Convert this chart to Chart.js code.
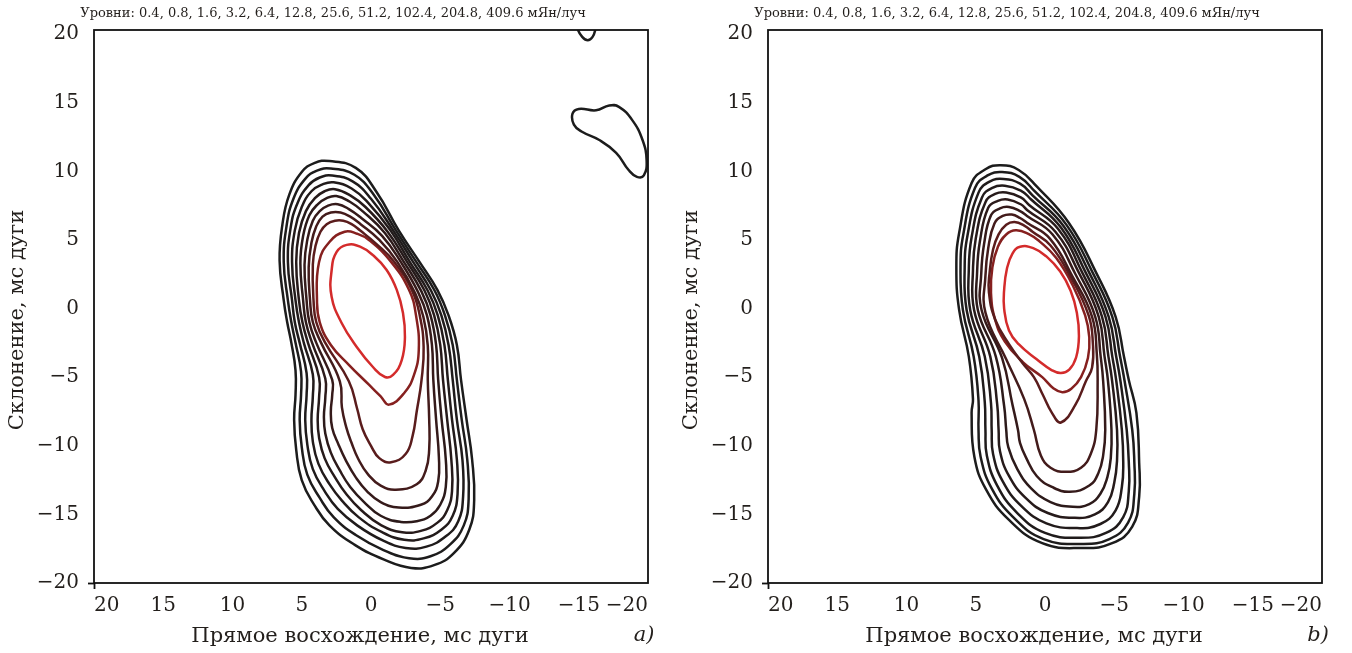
<!DOCTYPE html>
<html><head><meta charset="utf-8">
<script src="https://cdn.jsdelivr.net/npm/chart.js@4.4.1/dist/chart.umd.min.js"></script>
<style>
html,body{margin:0;padding:0;background:#fff;width:1352px;height:653px;overflow:hidden}
.p{position:absolute;top:0;width:676px;height:653px}
canvas{display:block}
</style></head><body>
<div class="p" style="left:0"><canvas id="ca" width="676" height="653"></canvas></div>
<div class="p" style="left:674px"><canvas id="cb" width="676" height="653"></canvas></div>
<script>
// ---- data (RA, Dec in mas) ----
const levels = [0.4, 0.8, 1.6, 3.2, 6.4, 12.8, 25.6, 51.2, 102.4, 204.8, 409.6];
const tickValues = [-20, -15, -10, -5, 0, 5, 10, 15, 20];
const levelColors = ['#1c1c1c','#1d1c1c','#1f1b1b','#221b1b','#261a1a','#2c1a1a','#351a1a','#431b1b','#5a1c1c','#86201f','#d42b2b'];
const panelLabels = ['a)', 'b)'];
const titleX = 'Прямое восхождение, мс дуги';
const titleY = 'Склонение, мс дуги';

// panel a contours (outer -> inner)
const a1 = [[3.0,10.75],[1.1,10.25],[-0.4,8.5],[-2.0,5.7],[-3.5,3.4],[-4.8,1.35],[-5.6,-0.5],[-6.2,-2.65],[-6.5,-5.2],[-6.9,-8.1],[-7.3,-11.0],[-7.45,-13.95],[-7.1,-16.1],[-6.0,-17.8],[-4.55,-18.7],[-2.9,-18.9],[-0.95,-18.3],[1.2,-17.2],[3.0,-15.8],[4.1,-14.3],[5.0,-12.5],[5.4,-10.3],[5.55,-8.1],[5.45,-6.3],[5.45,-4.5],[5.75,-2.5],[6.05,-1.0],[6.3,0.6],[6.6,3.5],[6.4,6.1],[5.9,8.3],[5.0,9.95],[4.1,10.6]];
const a2 = [[2.9,10.2],[1.2,9.75],[-0.2,8.3],[-1.8,5.7],[-3.27,3.4],[-4.57,1.35],[-5.34,-0.5],[-5.9,-2.65],[-6.2,-5.2],[-6.55,-8.1],[-6.95,-11.0],[-7.05,-13.9],[-6.7,-15.8],[-5.7,-17.2],[-4.3,-18.05],[-2.75,-18.2],[-0.9,-17.6],[1.1,-16.5],[2.7,-15.2],[3.7,-13.8],[4.6,-12.1],[5.0,-10.1],[5.15,-8.1],[5.05,-6.3],[5.05,-4.6],[5.45,-2.5],[5.75,-1.0],[6.0,0.6],[6.3,3.4],[6.1,6.0],[5.6,8.0],[4.75,9.45],[3.9,10.05]];
const a3 = [[2.8,9.7],[1.3,9.25],[0.0,8.0],[-1.6,5.7],[-3.04,3.4],[-4.34,1.3],[-5.08,-0.5],[-5.6,-2.65],[-5.9,-5.2],[-6.2,-8.1],[-6.6,-11.0],[-6.65,-13.7],[-6.3,-15.5],[-5.4,-16.6],[-4.0,-17.35],[-2.5,-17.45],[-0.85,-16.9],[1.0,-15.8],[2.4,-14.6],[3.35,-13.3],[4.2,-11.7],[4.6,-9.9],[4.75,-8.1],[4.65,-6.3],[4.65,-4.7],[5.15,-2.5],[5.5,-1.0],[5.7,0.6],[6.0,3.4],[5.8,5.9],[5.3,7.7],[4.5,9.0],[3.7,9.55]];
const a4 = [[2.7,9.2],[1.4,8.75],[0.2,7.7],[-1.4,5.7],[-2.8,3.4],[-4.1,1.3],[-4.82,-0.5],[-5.3,-2.65],[-5.55,-5.2],[-5.85,-8.1],[-6.2,-11.0],[-6.25,-13.5],[-5.9,-15.1],[-5.1,-16.1],[-3.8,-16.75],[-2.4,-16.85],[-0.8,-16.3],[0.9,-15.2],[2.1,-14.0],[3.0,-12.8],[3.8,-11.3],[4.2,-9.7],[4.3,-8.1],[4.2,-6.4],[4.2,-4.8],[4.85,-2.5],[5.2,-1.0],[5.45,0.6],[5.7,3.4],[5.5,5.7],[5.0,7.4],[4.3,8.55],[3.5,9.05]];
const a5 = [[2.6,8.7],[1.5,8.25],[0.4,7.4],[-1.2,5.6],[-2.6,3.4],[-3.87,1.3],[-4.56,-0.5],[-5.0,-2.65],[-5.2,-5.2],[-5.5,-8.1],[-5.8,-11.0],[-5.85,-13.3],[-5.5,-14.7],[-4.8,-15.6],[-3.6,-16.2],[-2.25,-16.3],[-0.75,-15.8],[0.7,-14.7],[1.8,-13.5],[2.6,-12.3],[3.35,-10.9],[3.75,-9.4],[3.85,-8.1],[3.75,-6.5],[3.75,-5.0],[4.55,-2.5],[4.95,-1.0],[5.2,0.6],[5.4,3.4],[5.2,5.5],[4.7,7.1],[4.05,8.05],[3.35,8.55]];
const a6 = [[2.5,8.2],[1.55,7.8],[0.55,7.05],[-1.0,5.5],[-2.37,3.4],[-3.64,1.25],[-4.3,-0.5],[-4.7,-2.65],[-4.85,-5.2],[-5.1,-8.1],[-5.4,-11.0],[-5.4,-13.0],[-5.0,-14.3],[-4.3,-15.1],[-3.3,-15.5],[-2.15,-15.55],[-0.7,-15.1],[0.5,-14.1],[1.5,-13.0],[2.25,-11.8],[2.9,-10.5],[3.3,-9.1],[3.4,-7.9],[3.3,-6.5],[3.3,-5.1],[4.25,-2.5],[4.7,-1.0],[4.9,0.6],[5.1,3.3],[4.9,5.3],[4.45,6.8],[3.85,7.6],[3.2,8.05]];
const a7 = [[2.4,7.6],[1.6,7.25],[0.7,6.6],[-0.8,5.3],[-2.15,3.4],[-3.4,1.2],[-4.04,-0.5],[-4.4,-2.65],[-4.5,-5.2],[-4.7,-8.1],[-4.9,-10.8],[-4.85,-12.6],[-4.4,-13.7],[-3.6,-14.3],[-2.0,-14.5],[-0.7,-14.1],[0.3,-13.3],[1.1,-12.3],[1.8,-11.1],[2.35,-9.9],[2.8,-8.7],[2.9,-7.5],[2.8,-6.3],[2.8,-5.2],[3.95,-2.5],[4.45,-1.0],[4.65,0.6],[4.8,3.2],[4.6,5.0],[4.2,6.4],[3.7,7.1],[3.1,7.5]];
const a8 = [[2.2,7.0],[1.5,6.7],[0.75,6.15],[-0.6,5.0],[-1.9,3.4],[-3.2,1.1],[-3.78,-0.6],[-4.1,-2.7],[-4.1,-5.2],[-4.2,-8.0],[-4.2,-10.3],[-3.95,-11.8],[-3.3,-12.8],[-1.8,-13.2],[-0.7,-12.9],[0.2,-12.1],[0.9,-11.0],[1.4,-9.8],[1.8,-8.6],[2.1,-7.2],[2.25,-5.3],[3.6,-2.5],[4.2,-1.0],[4.4,0.6],[4.5,3.0],[4.3,4.8],[3.95,6.0],[3.5,6.7],[2.9,7.0]];
const a9 = [[2.0,6.4],[1.4,6.15],[0.8,5.7],[-0.4,4.7],[-1.68,3.4],[-2.97,1.3],[-3.52,-0.5],[-3.8,-2.8],[-3.65,-5.2],[-3.3,-7.5],[-3.0,-9.3],[-2.5,-10.6],[-1.45,-11.2],[-0.6,-10.9],[0.0,-10.0],[0.6,-8.8],[1.0,-7.3],[1.6,-5.3],[3.3,-2.5],[3.95,-1.0],[4.15,0.6],[4.2,3.2],[4.0,4.6],[3.65,5.6],[3.2,6.15],[2.6,6.4]];
const a10 = [[1.9,5.6],[1.0,5.45],[0.15,5.0],[-1.45,3.4],[-2.75,1.35],[-3.25,-0.5],[-3.45,-3.0],[-3.1,-4.85],[-2.4,-6.15],[-1.3,-7.0],[-0.7,-6.4],[0.15,-5.55],[1.6,-4.1],[2.9,-2.65],[3.7,-1.0],[3.9,0.6],[3.75,3.4],[3.0,4.85]];
const a11 = [[1.75,4.64],[0.79,4.51],[-0.14,3.89],[-1.13,2.81],[-1.86,1.36],[-2.31,-0.32],[-2.45,-2.07],[-2.22,-3.75],[-1.59,-4.84],[-1.01,-4.99],[-0.14,-4.26],[1.03,-2.8],[2.12,-1.05],[2.84,0.85],[2.84,2.81],[2.48,4.13]];
// panel a, detached features (lowest level)
const aBlobTop = [[-14.9,20.4],[-15.25,19.8],[-15.65,19.55],[-16.0,19.8],[-16.2,20.35],[-16.3,21.0],[-15.6,21.5],[-14.8,21.0]];
const aBlobRight = [[-14.55,14.2],[-15.0,14.55],[-16.25,14.45],[-17.2,14.8],[-17.9,14.7],[-18.85,13.75],[-19.6,12.3],[-19.9,10.8],[-19.7,9.7],[-19.2,9.6],[-18.6,10.1],[-17.7,11.35],[-16.45,12.3],[-15.2,12.9],[-14.65,13.4]];

// panel b contours (outer -> inner)
const b1 = [[3.2,10.45],[1.9,10.1],[0.6,8.9],[-1.75,6.2],[-3.7,2.6],[-5.1,-0.6],[-5.7,-3.5],[-6.05,-5.2],[-6.6,-7.6],[-6.8,-11.25],[-6.8,-13.7],[-6.3,-15.9],[-4.85,-17.1],[-2.7,-17.45],[0.2,-17.1],[2.6,-15.4],[4.25,-13.2],[5.1,-10.8],[5.3,-7.6],[5.2,-6.6],[5.5,-3.5],[6.2,-0.1],[6.4,3.0],[6.2,5.5],[5.3,9.15],[4.3,10.15]];
const b2 = [[3.1,9.95],[1.85,9.6],[0.75,8.55],[-1.55,6.1],[-3.45,2.6],[-4.86,-0.6],[-5.42,-3.5],[-5.75,-5.3],[-6.3,-8.85],[-6.45,-11.2],[-6.45,-13.5],[-6.0,-15.6],[-4.65,-16.8],[-2.65,-17.15],[0.1,-16.8],[2.3,-15.2],[3.85,-13.1],[4.65,-10.8],[4.8,-8.85],[4.8,-6.7],[5.15,-3.5],[5.93,-0.1],[6.1,3.0],[5.9,5.4],[5.05,8.8],[4.15,9.7]];
const b3 = [[3.0,9.45],[1.8,9.1],[0.9,8.25],[-1.35,6.0],[-3.2,2.6],[-4.6,-0.6],[-5.14,-3.5],[-5.45,-5.3],[-5.9,-8.85],[-6.05,-11.2],[-6.05,-13.3],[-5.65,-15.2],[-4.4,-16.35],[-2.5,-16.7],[0.0,-16.35],[2.0,-14.9],[3.45,-12.9],[4.2,-10.7],[4.3,-8.85],[4.35,-6.8],[4.75,-3.5],[5.66,-0.1],[5.8,3.0],[5.6,5.3],[4.8,8.45],[4.0,9.25]];
const b4 = [[2.9,8.95],[1.75,8.6],[1.0,7.95],[-1.15,5.9],[-2.95,2.6],[-4.37,-0.6],[-4.86,-3.5],[-5.15,-5.3],[-5.55,-8.85],[-5.65,-11.2],[-5.55,-13.0],[-5.1,-14.7],[-4.0,-15.7],[-2.3,-16.0],[-0.1,-15.65],[1.7,-14.4],[3.05,-12.6],[3.75,-10.6],[3.85,-8.85],[3.9,-6.9],[4.35,-3.5],[5.4,-0.1],[5.5,2.9],[5.3,5.2],[4.55,8.1],[3.8,8.8]];
const b5 = [[2.8,8.45],[1.75,8.1],[1.15,7.55],[-0.95,5.8],[-2.7,2.6],[-4.12,-0.6],[-4.58,-3.5],[-4.85,-5.3],[-5.2,-8.85],[-5.2,-11.1],[-5.0,-12.7],[-4.55,-14.1],[-3.6,-15.0],[-2.15,-15.25],[-0.2,-14.9],[1.4,-13.8],[2.6,-12.2],[3.25,-10.4],[3.35,-8.85],[3.45,-7.0],[3.95,-3.5],[5.12,-0.1],[5.2,2.8],[5.0,5.1],[4.3,7.75],[3.6,8.35]];
const b6 = [[2.7,7.95],[1.75,7.6],[1.25,7.15],[-0.75,5.6],[-2.45,2.6],[-3.88,-0.6],[-4.3,-3.5],[-4.55,-5.3],[-4.8,-8.85],[-4.75,-10.9],[-4.5,-12.3],[-4.0,-13.5],[-3.2,-14.25],[-2.0,-14.45],[-0.4,-14.1],[1.0,-13.1],[2.0,-11.7],[2.65,-10.1],[2.8,-8.85],[2.95,-7.1],[3.55,-3.5],[4.85,-0.1],[4.9,2.7],[4.7,4.9],[4.1,7.35],[3.4,7.85]];
const b7 = [[2.6,7.4],[1.8,7.1],[1.3,6.75],[-0.55,5.4],[-2.2,2.5],[-3.63,-0.6],[-4.02,-3.5],[-4.2,-5.3],[-4.35,-8.85],[-4.2,-10.7],[-3.85,-12.0],[-3.2,-12.9],[-1.8,-13.35],[-0.5,-13.0],[0.6,-12.2],[1.35,-10.9],[1.8,-9.8],[1.95,-8.85],[2.35,-7.0],[3.1,-3.6],[4.58,-0.1],[4.6,2.6],[4.4,4.7],[3.9,6.8],[3.25,7.3]];
const b8 = [[2.4,6.85],[1.8,6.6],[1.3,6.25],[-0.35,5.1],[-1.95,2.4],[-3.4,-0.6],[-3.74,-3.3],[-3.8,-5.4],[-3.7,-8.85],[-3.3,-10.6],[-2.6,-11.6],[-1.5,-11.9],[-0.4,-11.6],[0.3,-10.7],[0.8,-8.85],[1.5,-6.6],[2.8,-3.7],[4.3,-0.3],[4.3,2.4],[4.1,4.4],[3.65,6.2],[3.05,6.75]];
const b9 = [[2.2,6.3],[1.5,6.05],[0.9,5.6],[-0.4,4.6],[-1.8,2.4],[-3.15,-0.5],[-3.46,-2.6],[-3.4,-4.3],[-2.95,-5.3],[-2.2,-7.0],[-1.15,-8.3],[-0.5,-7.6],[0.15,-6.3],[0.8,-5.0],[1.6,-4.0],[2.6,-2.6],[3.6,-0.8],[4.05,1.2],[4.0,2.6],[3.75,4.3],[3.35,5.4],[2.8,6.1]];
const b10 = [[2.1,5.7],[1.2,5.45],[0.4,4.9],[-0.8,3.7],[-2.0,1.7],[-2.9,-0.5],[-3.2,-2.1],[-3.1,-3.6],[-2.6,-5.0],[-1.9,-5.85],[-1.25,-6.1],[-0.6,-5.8],[0.2,-5.0],[1.6,-3.9],[2.9,-2.4],[3.6,-0.8],[3.9,1.15],[3.8,3.0],[3.4,4.5],[2.8,5.4]];
const b11 = [[1.8,4.5],[0.85,4.4],[-0.1,3.8],[-1.1,2.7],[-1.85,1.3],[-2.3,-0.3],[-2.45,-2.0],[-2.25,-3.55],[-1.75,-4.45],[-1.15,-4.7],[-0.5,-4.5],[0.6,-3.7],[1.9,-2.6],[2.6,-1.6],[2.95,0.0],[2.95,1.35],[2.75,2.9],[2.35,4.0]];

const contoursA = [a1,a2,a3,a4,a5,a6,a7,a8,a9,a10,a11];
const contoursB = [b1,b2,b3,b4,b5,b6,b7,b8,b9,b10,b11];
const extrasA = [aBlobTop, aBlobRight];
const levelsTitle = 'Уровни: ' + levels.join(', ') + ' мЯн/луч';

// ---- helpers ----
const SERIF = '"DejaVu Serif", "Liberation Serif", serif';
const TXT = '#231f1c';
function fmt(v) { return v < 0 ? '\u2212' + Math.abs(v) : String(v); }
function toPts(arr) { return arr.map(p => ({x: p[0], y: p[1]})); }
function mkDs(arr, color) {
  return { data: toPts(arr), borderColor: color, borderWidth: 2.5, pointRadius: 0,
           tension: 0.45, fill: false, showLine: true, closed: true };
}

const loopPlugin = {
  id: 'loopPlugin',
  afterDatasetsUpdate(chart) {
    chart.data.datasets.forEach((ds, i) => {
      const meta = chart.getDatasetMeta(i);
      if (ds.closed && meta.dataset) {
        meta.dataset._loop = true;
        meta.dataset._fullLoop = true;
        meta.dataset._pointsUpdated = false;
        delete meta.dataset._segments;
        delete meta.dataset._path;
      }
    });
  }
};

function framePlugin(label) {
  return {
    id: 'frameText',
    afterDatasetsDraw(chart) {
      const {ctx, chartArea: a} = chart;
      ctx.save();
      ctx.strokeStyle = '#111';
      ctx.lineWidth = 1.8;
      ctx.strokeRect(a.left, a.top, a.right - a.left, a.bottom - a.top);
      ctx.restore();
    },
    afterDraw(chart) {
      const ctx = chart.ctx;
      ctx.save();
      ctx.fillStyle = TXT;
      ctx.textAlign = 'center';
      ctx.textBaseline = 'middle';
      ctx.font = '13px ' + SERIF;
      ctx.fillText(levelsTitle, 333, 14);
      ctx.font = '21px ' + SERIF;
      ctx.fillText(titleX, 360, 637);
      ctx.save();
      ctx.translate(18, 320);
      ctx.rotate(-Math.PI / 2);
      ctx.fillText(titleY, 0, 0);
      ctx.restore();
      ctx.font = 'italic 21px ' + SERIF;
      ctx.fillText(label, 644, 636);
      ctx.restore();
    }
  };
}

function makeChart(id, contours, extras, label) {
  const datasets = contours.map((c, i) => mkDs(c, levelColors[i]));
  extras.forEach(e => datasets.push(mkDs(e, levelColors[0])));
  const tickFont = {family: SERIF, size: 20};
  return new Chart(document.getElementById(id), {
    type: 'scatter',
    data: { datasets },
    options: {
      responsive: false, animation: false, events: [],
      layout: { padding: { top: 30, right: 28, left: 0, bottom: 0 } },
      plugins: { legend: {display: false}, tooltip: {enabled: false}, title: {display: false} },
      scales: {
        x: {
          type: 'linear', min: -20, max: 20, reverse: true,
          afterBuildTicks: s => { s.ticks = tickValues.map(v => ({value: v})); },
          afterFit: s => { s.height = 70; },
          border: { display: false },
          grid: { display: true, drawOnChartArea: false, drawTicks: true, tickLength: 6, tickWidth: 1.8,
                  tickColor: c => (c.tick && c.tick.value === 20) ? '#111' : 'rgba(0,0,0,0)' },
          ticks: { align: 'inner', autoSkip: false, maxRotation: 0, padding: 5, color: TXT, font: tickFont, callback: fmt }
        },
        y: {
          type: 'linear', min: -20, max: 20.3,
          afterBuildTicks: s => { s.ticks = tickValues.map(v => ({value: v})); },
          afterFit: s => { s.width = 94; },
          border: { display: false },
          grid: { display: true, drawOnChartArea: false, drawTicks: true, tickLength: 6, tickWidth: 1.8,
                  tickColor: c => (c.tick && c.tick.value === -20) ? '#111' : 'rgba(0,0,0,0)' },
          ticks: { autoSkip: false, padding: 9, color: TXT, font: tickFont, callback: fmt }
        }
      }
    },
    plugins: [loopPlugin, framePlugin(label)]
  });
}

makeChart('ca', contoursA, extrasA, panelLabels[0]);
makeChart('cb', contoursB, [], panelLabels[1]);
</script></body></html>
